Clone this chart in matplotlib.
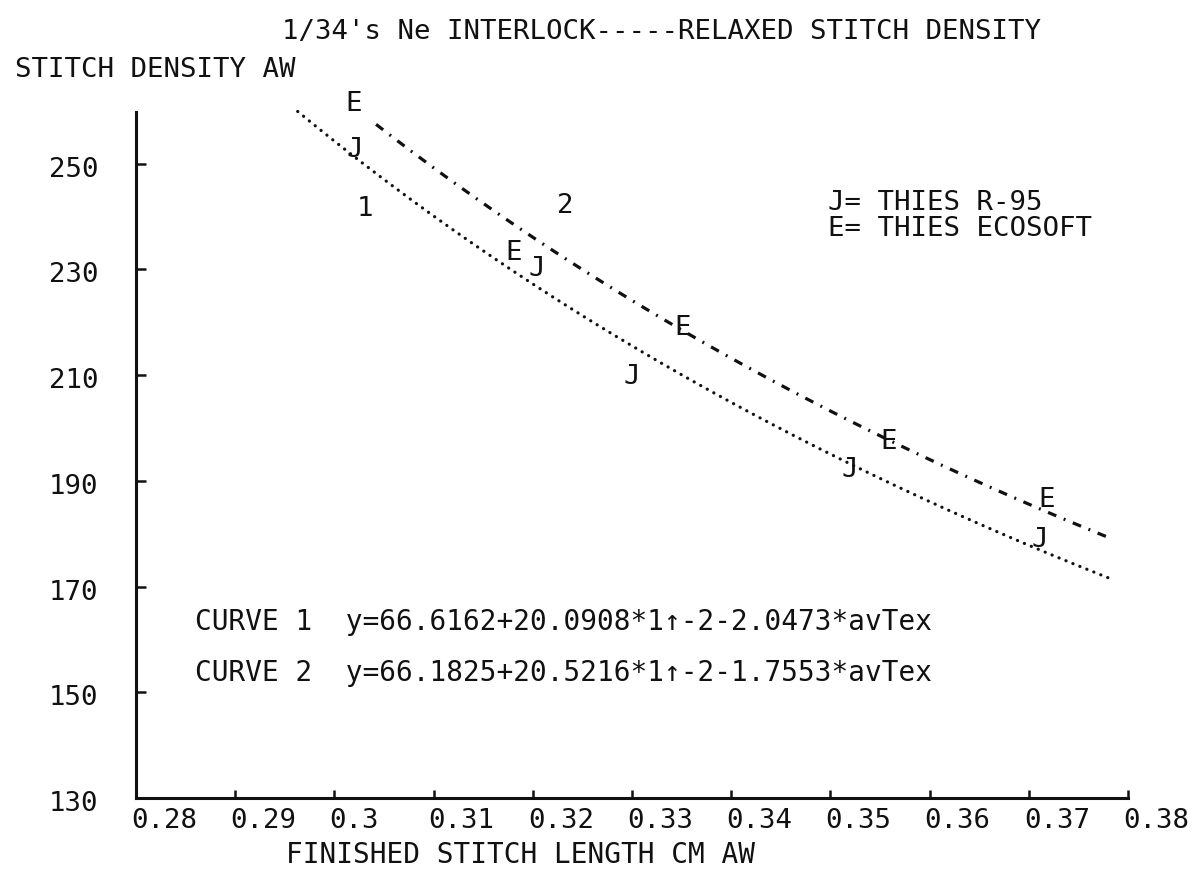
import numpy as np
import matplotlib
matplotlib.use("Agg")
import matplotlib.pyplot as plt
from matplotlib.transforms import ScaledTranslation

# --- data -------------------------------------------------------------
# measured points: E = THIES ECOSOFT, J = THIES R-95
ecosoft_x = [0.3019, 0.3181, 0.3351, 0.3559, 0.3718]
ecosoft_y = [261.3, 233.2, 218.9, 197.4, 186.4]
r95_x = [0.3021, 0.3204, 0.3300, 0.3520, 0.3711]
r95_y = [252.6, 230.0, 209.6, 192.1, 178.9]

# fitted curves: y = a + b * l^-2 - c * avTex
curve_a = [66.6162, 66.1825]
curve_b = [20.0908, 20.5216]
curve_c = [2.0473, 1.7553]
av_tex = 590.5 / 34          # 1/34's Ne yarn in tex
curve_xrange = [(0.2963, 0.3785), (0.3042, 0.3780)]
curve_label_pos = [(0.3031, 241.5), (0.3233, 242.1)]

xticks = [0.28, 0.29, 0.30, 0.31, 0.32, 0.33, 0.34, 0.35, 0.36, 0.37, 0.38]
xticklabels = ["0.28", "0.29", "0.3", "0.31", "0.32", "0.33", "0.34",
               "0.35", "0.36", "0.37", "0.38"]
yticks = [130, 150, 170, 190, 210, 230, 250]
yticklabels = ["130", "150", "170", "190", "210", "230", "250"]

# --- figure -----------------------------------------------------------
W, H, DPI = 1192, 876, 100
fig = plt.figure(figsize=(W / DPI, H / DPI), dpi=DPI)
FONT = "DejaVu Sans Mono"
FS = 19.7
INK = "#111111"

ax = fig.add_axes([136 / W, 1 - 798 / H, (1128 - 136) / W, (798 - 112) / H])
ax.set_xlim(0.28, 0.38)
ax.set_ylim(130, 259.8)
for side in ("top", "right"):
    ax.spines[side].set_visible(False)
for side in ("left", "bottom"):
    ax.spines[side].set_linewidth(2.2)
    ax.spines[side].set_color(INK)

ax.set_xticks(xticks)
ax.set_xticklabels(xticklabels, fontfamily=FONT, fontsize=FS, color=INK)
ax.set_yticks(yticks)
ax.set_yticklabels(yticklabels, fontfamily=FONT, fontsize=FS, color=INK)
ax.tick_params(axis="x", direction="in", length=6, width=1.8, color=INK, pad=7)
ax.tick_params(axis="y", direction="in", length=7, width=1.8, color=INK, pad=27)
shift = ScaledTranslation(-5 / DPI, 0, fig.dpi_scale_trans)
for lab in ax.get_xticklabels():
    lab.set_horizontalalignment("left")
    lab.set_transform(lab.get_transform() + shift)
yshift = ScaledTranslation(0, -3 / DPI, fig.dpi_scale_trans)
for lab in ax.get_yticklabels():
    lab.set_transform(lab.get_transform() + yshift)

# curves: 1 dotted, 2 dash-dot
styles = [dict(linestyle=(0, (0.05, 2.3)), linewidth=2.3, dash_capstyle="round"),
          dict(linestyle=(0, (2.8, 2.5, 0.6, 2.5)), linewidth=2.3)]
for a, b, c, (x0, x1), st in zip(curve_a, curve_b, curve_c, curve_xrange, styles):
    xs = np.linspace(x0, x1, 400)
    ax.plot(xs, a + b * xs ** -2 - c * av_tex, color=INK, clip_on=False, **st)

for i, (lx, ly) in enumerate(curve_label_pos):
    ax.text(lx, ly, str(i + 1), ha="center", va="center",
            fontfamily=FONT, fontsize=FS, color=INK)

# point letters
for x, y in zip(ecosoft_x, ecosoft_y):
    ax.text(x, y, "E", ha="center", va="center", fontfamily=FONT,
            fontsize=FS, color=INK, clip_on=False)
for x, y in zip(r95_x, r95_y):
    ax.text(x, y, "J", ha="center", va="center", fontfamily=FONT,
            fontsize=FS, color=INK, clip_on=False)

# legend text
fig.text(828 / W, 1 - 216 / H, "J= THIES R-95\nE= THIES ECOSOFT", ha="left",
         va="center", fontfamily=FONT, fontsize=FS, color=INK, linespacing=1.02)

# equations
eqs = ["CURVE 1  y=66.6162+20.0908*1\u2191-2-2.0473*avTex",
       "CURVE 2  y=66.1825+20.5216*1\u2191-2-1.7553*avTex"]
for txt, yy in zip(eqs, [622, 673]):
    fig.text(195 / W, 1 - yy / H, txt, ha="left", va="center",
             fontfamily=FONT, fontsize=FS + 0.3, color=INK)

# titles
fig.text(282 / W, 1 - 32 / H, "1/34's Ne INTERLOCK-----RELAXED STITCH DENSITY",
         ha="left", va="center", fontfamily=FONT, fontsize=FS, color=INK)
fig.text(15 / W, 1 - 70 / H, "STITCH DENSITY AW", ha="left", va="center",
         fontfamily=FONT, fontsize=FS, color=INK)
fig.text(286 / W, 1 - 855 / H, "FINISHED STITCH LENGTH CM AW", ha="left",
         va="center", fontfamily=FONT, fontsize=FS + 0.3, color=INK)

fig.savefig("out.png", dpi=DPI, facecolor="white")
